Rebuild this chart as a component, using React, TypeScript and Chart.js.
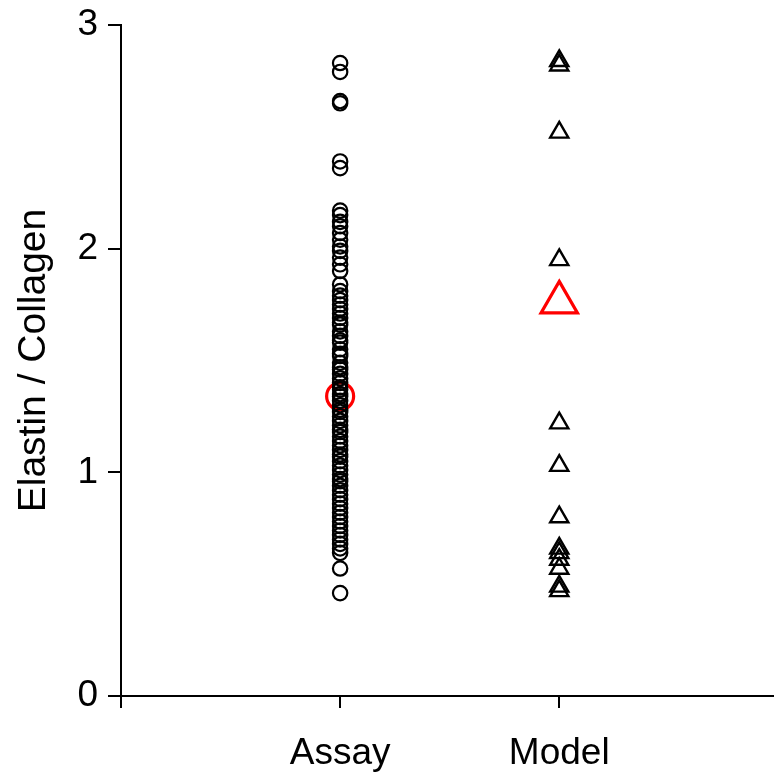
import React, { useEffect, useRef } from "react";
import { Chart, registerables } from "chart.js";
Chart.register(...registerables);

const categories = ["Assay", "Model"];
const yTickValues = [0, 1, 2, 3];
const yTitle = "Elastin / Collagen";

const assayValues = [
  2.83, 2.79, 2.66, 2.65, 2.39, 2.36, 2.17, 2.15, 2.12, 2.1, 2.07, 2.04, 2.01,
  1.99, 1.96, 1.93, 1.9, 1.84, 1.81, 1.79, 1.77, 1.75, 1.73, 1.71, 1.69, 1.67,
  1.66, 1.63, 1.61, 1.59, 1.58, 1.55, 1.53, 1.52, 1.49, 1.47, 1.46, 1.44, 1.42,
  1.4, 1.38, 1.37, 1.35, 1.34, 1.32, 1.3, 1.28, 1.27, 1.25, 1.23, 1.21, 1.19,
  1.18, 1.16, 1.14, 1.12, 1.1, 1.08, 1.07, 1.05, 1.03, 1.01, 0.99, 0.97, 0.96,
  0.94, 0.92, 0.9, 0.88, 0.86, 0.84, 0.82, 0.8, 0.78, 0.76, 0.74, 0.72, 0.7,
  0.68, 0.66, 0.64, 0.57, 0.46,
];
const modelValues = [
  2.84, 2.82, 2.52, 1.95, 1.22, 1.03, 0.8, 0.66, 0.64, 0.61, 0.57, 0.49, 0.47,
];
const assayMean = 1.34;
const modelMean = 1.76;

const FONT = "'Liberation Sans', Arial, sans-serif";

export default function App() {
  const ref = useRef<HTMLCanvasElement>(null);
  useEffect(() => {
    document.body.style.margin = "0";
    const chart = new Chart(ref.current!, {
      type: "scatter",
      data: {
        datasets: [
          {
            data: assayValues.map((v) => ({ x: 1, y: v })),
            pointStyle: "circle",
            pointRadius: 7.2,
            borderColor: "#000",
            backgroundColor: "rgba(0,0,0,0)",
            borderWidth: 2.2,
          },
          {
            data: modelValues.map((v) => ({ x: 2, y: v })),
            pointStyle: "triangle",
            pointRadius: 10.5,
            borderColor: "#000",
            backgroundColor: "rgba(0,0,0,0)",
            borderWidth: 2.4,
          },
          {
            data: [{ x: 1, y: assayMean }],
            pointStyle: "circle",
            pointRadius: 13.5,
            borderColor: "#ff0000",
            backgroundColor: "rgba(0,0,0,0)",
            borderWidth: 3.2,
          },
          {
            data: [{ x: 2, y: modelMean }],
            pointStyle: "triangle",
            pointRadius: 21,
            borderColor: "#ff0000",
            backgroundColor: "rgba(0,0,0,0)",
            borderWidth: 3.2,
          },
        ],
      },
      options: {
        responsive: false,
        animation: false,
        layout: {
          autoPadding: false,
          padding: { top: 25, right: 0, bottom: 0, left: 0 },
        },
        plugins: { legend: { display: false }, tooltip: { enabled: false } },
        scales: {
          x: {
            type: "linear",
            min: 0,
            max: 2.98,
            afterBuildTicks: (s: any) => {
              s.ticks = [0, 1, 2].map((v) => ({ value: v }));
            },
            ticks: {
              callback: (v: any) => categories[Number(v) - 1] ?? "",
              color: "#000",
              font: { family: FONT, size: 37 },
              padding: 24,
              maxRotation: 0,
              autoSkip: false,
            },
            grid: {
              drawOnChartArea: false,
              drawTicks: true,
              tickLength: 12,
              color: "#000",
              lineWidth: 2,
            },
            border: { color: "#000", width: 2 },
            afterFit: (s: any) => {
              s.height = 85;
              s.paddingLeft = 0;
              s.paddingRight = 0;
            },
          },
          y: {
            type: "linear",
            min: 0,
            max: 3,
            afterBuildTicks: (s: any) => {
              s.ticks = yTickValues.map((v) => ({ value: v }));
            },
            ticks: {
              color: "#000",
              font: { family: FONT, size: 37 },
              padding: 10,
            },
            grid: {
              drawOnChartArea: false,
              drawTicks: true,
              tickLength: 13,
              color: "#000",
              lineWidth: 2,
            },
            border: { color: "#000", width: 2 },
            title: {
              display: true,
              text: yTitle,
              color: "#000",
              font: { family: FONT, size: 39 },
              padding: { top: 11, bottom: 0 },
            },
            afterFit: (s: any) => {
              s.width = 121;
              s.paddingTop = 0;
              s.paddingBottom = 0;
            },
          },
        },
      },
    });
    return () => chart.destroy();
  }, []);
  return (
    <canvas ref={ref} width={774} height={781} style={{ display: "block" }} />
  );
}
